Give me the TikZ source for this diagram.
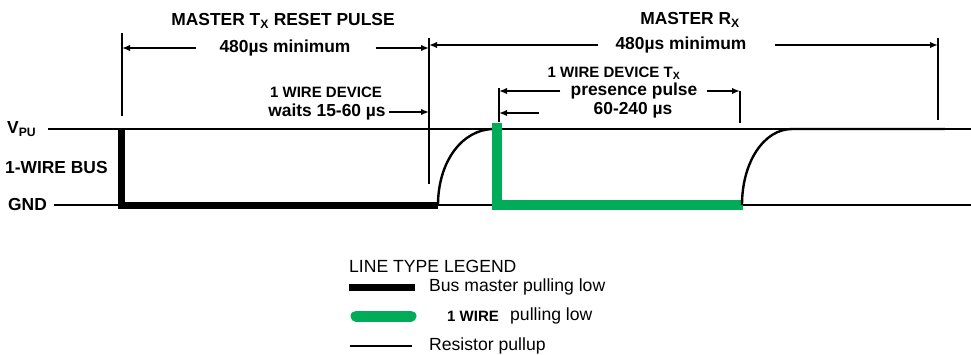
\documentclass[tikz,border=0pt]{standalone}
\usepackage{fontspec}
\setmainfont{Liberation Sans}
\usetikzlibrary{arrows.meta}
\definecolor{wiregreen}{RGB}{0,172,88}

\begin{document}
\begin{tikzpicture}[x=1pt,y=-1pt,
    lbl/.style={font=\fontsize{17.4}{19}\selectfont\bfseries,inner sep=0pt},
    smalllbl/.style={font=\fontsize{15}{17}\selectfont\bfseries,inner sep=0pt},
    legtxt/.style={font=\fontsize{17.6}{19}\selectfont,inner sep=0pt,anchor=west},
    dimarrow/.style={line width=1.8pt,-{Latex[length=8pt,width=6.5pt]}},
    extline/.style={line width=1.8pt},
    busline/.style={line width=1.4pt},
    pullup/.style={line width=2.4pt},
    masterlow/.style={line width=7pt,line join=miter},
    wirelow/.style={line width=9.5pt,draw=wiregreen,line join=miter}]
  \useasboundingbox (0,0) rectangle (971,354);
  % bus levels
  \node[lbl,anchor=west] (vpu) at (7,129) {V\textsubscript{PU}};
  \node[lbl,anchor=west] (bus) at (5,168) {1-WIRE BUS};
  \node[lbl,anchor=west] (gnd) at (8,205) {GND};
  \coordinate (vpuend) at (971,129);
  \coordinate (gndend) at (971,205);
  \draw[busline] ([xshift=12pt]vpu.east |- vpuend) -- (vpuend);
  \draw[busline] ([xshift=7pt]gnd.east) -- (gndend);
  % master reset pulse and presence pulse
  \draw[masterlow] (121,129) -- (121,205) -- (438,205);
  \draw[pullup] (438,205) .. controls (438,162) and (462,129) .. (494,129);
  \draw[wirelow] (497,123) -- (497,205) -- (743,205);
  \draw[pullup] (742,205) .. controls (742,162) and (764,129) .. (792,129) -- (945,129);
  % extension lines
  \coordinate (vA) at (122,33);
  \coordinate (vB) at (429,38);
  \coordinate (vC) at (499,88);
  \coordinate (vD) at (740,91);
  \coordinate (vE) at (938,38);
  \draw[extline] (vA) -- (122,116);
  \draw[extline] (vB) -- (429,184);
  \draw[extline] (vC) -- (499,122);
  \draw[extline] (vD) -- (740,123);
  \draw[extline] (vE) -- (938,120);
  % master Tx
  \node[lbl] (txreset) at (283,21) {MASTER T\textsubscript{X} RESET PULSE};
  \node[lbl] (mintx) at (285,48) {480µs minimum};
  \draw[dimarrow] ([xshift=-23pt]mintx.west) -- (vA |- mintx.west);
  \draw[dimarrow] ([xshift=25pt]mintx.east) -- (vB |- mintx.east);
  \node[smalllbl] (devwait) at (326,92) {1 WIRE DEVICE};
  \node[lbl] (waits) at (327,112) {waits 15-60 µs};
  \draw[dimarrow] ([xshift=3pt]waits.east) -- (vB |- waits.east);
  % master Rx
  \node[lbl] (rx) at (690,20) {MASTER R\textsubscript{X}};
  \node[lbl] (minrx) at (681,45) {480µs minimum};
  \draw[dimarrow] ([xshift=-17pt]minrx.west) -- (vB |- minrx.west);
  \draw[dimarrow] ([xshift=28pt]minrx.east) -- (vE |- minrx.east);
  \node[smalllbl] (devtx) at (614,73) {1 WIRE DEVICE T\textsubscript{X}};
  \node[lbl] (presence) at (634,91) {presence pulse};
  \node[lbl] (dur) at (633,110) {60-240 µs};
  \draw[dimarrow] ([xshift=-10pt]presence.west) -- (vC |- presence.west);
  \draw[dimarrow] ([xshift=9pt]presence.east) -- (vD |- presence.east);
  \coordinate (waitend) at (539,113);
  \draw[dimarrow] (waitend) -- (vC |- waitend);
  % legend
  \node[legtxt] (legend) at (349,266) {LINE TYPE LEGEND};
  \node[legtxt] (legmaster) at (429,287) {Bus master pulling low};
  \node[smalllbl,anchor=west] (legwire) at (447,316) {1 WIRE};
  \node[legtxt] (legwirelow) at (510,316) {pulling low};
  \node[legtxt] (legpullup) at (429,346) {Resistor pullup};
  \draw[line width=7pt] ([xshift=-80pt]legmaster.west) -- ([xshift=-14pt]legmaster.west);
  \draw[wirelow,line width=11pt,line cap=round] ([xshift=-91pt]legwire.west) -- ([xshift=-36pt]legwire.west);
  \draw[line width=2pt] ([xshift=-79pt]legpullup.west) -- ([xshift=-17pt]legpullup.west);
\end{tikzpicture}
\end{document}
